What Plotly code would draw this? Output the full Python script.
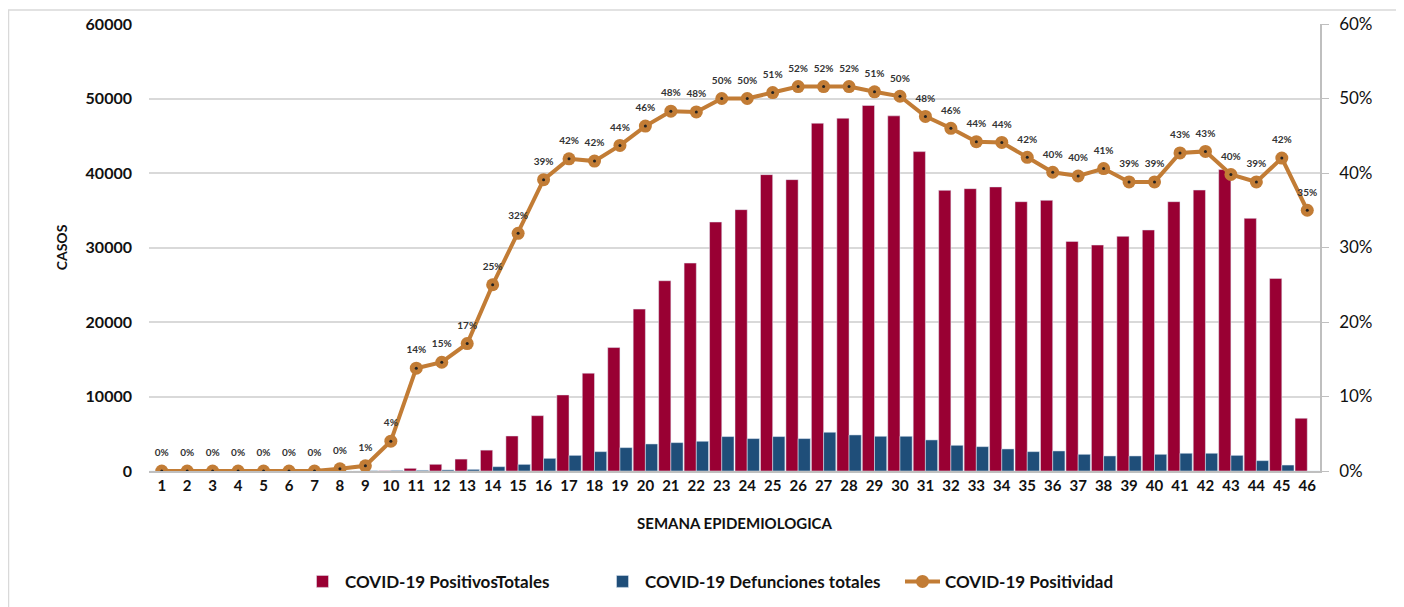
import plotly.graph_objects as go

weeks = list(range(1, 47))
positivos = [0, 0, 0, 0, 0, 0, 0, 0, 0, 40, 360, 900, 1600, 2800, 4700, 7430, 10210, 13130, 16570, 21730,
             25540, 27910, 33420, 35080, 39780, 39110, 46680, 47350, 49060, 47670,
             42870, 37670, 37900, 38130, 36150, 36330, 30820, 30330, 31500, 32350,
             36150, 37710, 40460, 33910, 25850, 7080]
defunciones = [0, 0, 0, 0, 0, 0, 0, 0, 50, 80, 100, 150, 220, 580, 890, 1700, 2100, 2600, 3140, 3630,
               3810, 3990, 4620, 4350, 4620, 4350, 5200, 4840, 4660, 4660,
               4170, 3450, 3270, 2960, 2600, 2690, 2240, 2020, 2020, 2240,
               2380, 2380, 2100, 1390, 800, 0]
positividad_pct = [0, 0, 0, 0, 0, 0, 0, 0.3, 0.7, 4.0, 13.8, 14.6, 17.1, 25.0, 31.9, 39.1, 41.9, 41.6, 43.7, 46.3,
                   48.3, 48.2, 50.0, 50.0, 50.8, 51.6, 51.6, 51.6, 50.9, 50.3,
                   47.6, 46.0, 44.2, 44.1, 42.1, 40.1, 39.6, 40.6, 38.8, 38.8,
                   42.7, 42.9, 39.8, 38.8, 42.0, 35.0]
positividad = [v / 100 for v in positividad_pct]

RED = "#990033"
BLUE = "#1F4E79"
ORANGE = "#C27C35"
FONT = "Lato"

# page body has an 8px margin, so figure is offset by 8px
W, H = 1396, 599
L, T, PW, PH = 141, 16, 1171, 447

fig = go.Figure()
fig.add_trace(go.Bar(x=weeks, y=positivos, name="COVID-19 PositivosTotales", marker_color=RED))
fig.add_trace(go.Bar(x=weeks, y=defunciones, name="COVID-19 Defunciones totales", marker_color=BLUE))
fig.add_trace(go.Scatter(x=weeks, y=positividad, name="COVID-19 Positividad", yaxis="y2",
                         mode="lines+markers", line=dict(color=ORANGE, width=4),
                         marker=dict(color=ORANGE, size=13)))
fig.add_trace(go.Scatter(x=weeks, y=positividad, yaxis="y2", mode="markers", showlegend=False,
                         hoverinfo="skip", marker=dict(color="#222222", size=3)))
fig.add_trace(go.Scatter(x=weeks, y=positividad, yaxis="y2", mode="markers+text", showlegend=False,
                         hoverinfo="skip", marker=dict(color="rgba(0,0,0,0)", size=18),
                         texttemplate="%{y:.0%}", textposition="top center",
                         textfont=dict(family=FONT, size=10, color="#333333", weight="bold")))

fig.update_layout(
    width=W, height=H,
    margin=dict(l=L, r=W - L - PW, t=T, b=H - T - PH, autoexpand=False),
    paper_bgcolor="white", plot_bgcolor="white",
    barmode="group", bargap=0.04, bargroupgap=0,
    font=dict(family=FONT, color="#111111"),
    xaxis=dict(range=[0.5, 46.5], tickmode="linear", dtick=1, showgrid=False, automargin=False,
               showline=True, linecolor="#BFBFBF", linewidth=1.5, ticks="",
               tickfont=dict(size=15, weight="bold", color="#111111"),
               title=dict(text="SEMANA EPIDEMIOLOGICA", standoff=26,
                          font=dict(size=15, weight="bold", color="#111111"))),
    yaxis=dict(range=[0, 60000], dtick=10000, tickformat="d", showgrid=True, automargin=False,
               gridcolor="#D9D9D9", gridwidth=1.5, showline=False, zeroline=False,
               ticklabelstandoff=16,
               tickfont=dict(size=16, weight="bold", color="#111111"),
               title=dict(text="CASOS", standoff=14,
                          font=dict(size=14, weight="bold", color="#111111"))),
    yaxis2=dict(range=[0, 0.6], dtick=0.1, tickformat=".0%", overlaying="y", side="right",
                automargin=False,
                showgrid=False, zeroline=False, showline=True, linecolor="#BFBFBF", linewidth=1.5,
                ticks="outside", ticklen=7, tickcolor="#BFBFBF", ticklabelstandoff=7,
                tickfont=dict(size=17, color="#111111")),
    legend=dict(orientation="h", x=(300 - 149) / PW, xanchor="left", y=-0.248, yanchor="middle",
                font=dict(size=17, weight="bold", color="#111111"), itemwidth=35,
                entrywidth=250, traceorder="normal"),
    shapes=[dict(type="rect", xref="paper", yref="paper",
                 x0=(0.5 - L) / PW, x1=(W + 20 - L) / PW,
                 y0=-(H + 20 - T - PH) / PH, y1=(T + PH - 2) / PH,
                 line=dict(color="#D9D9D9", width=1.5), fillcolor="rgba(0,0,0,0)", layer="below")],
)

fig.write_html("out.html")
